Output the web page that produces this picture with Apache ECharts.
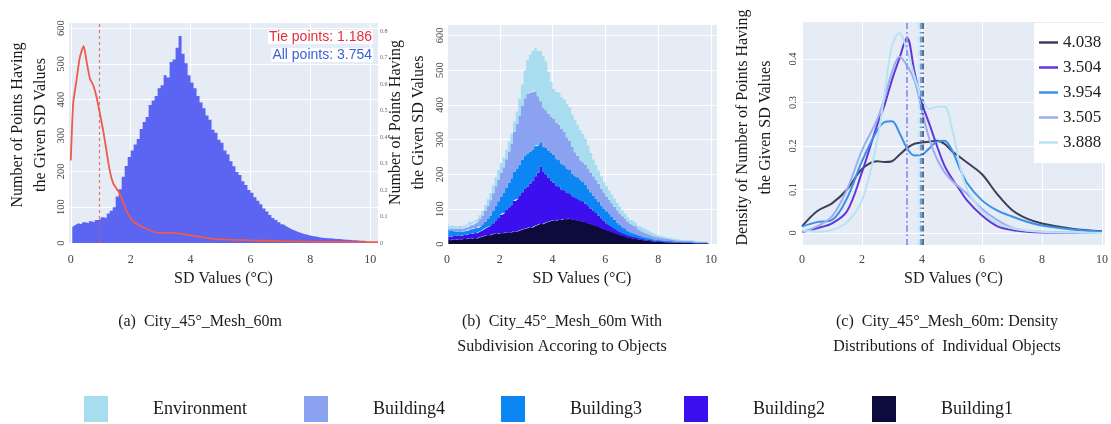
<!DOCTYPE html>
<html><head><meta charset="utf-8">
<script src="https://cdn.jsdelivr.net/npm/echarts@6/dist/echarts.min.js"></script>
<style>html,body{margin:0;padding:0;background:#fff}#c{width:1111px;height:424px}</style>
</head><body><div id="c"></div>
<script>
// ---------- tick labels ----------
const sdTicks = [0, 2, 4, 6, 8, 10];
const countTicks = [0, 100, 200, 300, 400, 500, 600];
const tieTicks = [0, 0.1, 0.2, 0.3, 0.4, 0.5, 0.6, 0.7, 0.8];
const densTicks = [0, 0.1, 0.2, 0.3, 0.4];

// ---------- (a) histogram of all points (bins of 0.1 from 0) ----------
const BIN_START = 0, BIN_WIDTH = 0.1;
const allPoints = [
  45,50,55,52,58,55,61,58,64,66,
  72,70,82,90,100,130,150,185,215,240,
  258,275,290,318,338,352,385,398,410,432,
  440,468,462,505,512,545,578,528,502,468,
  448,432,410,392,376,356,344,316,308,288,
  280,258,248,228,214,198,190,172,162,148,
  140,128,118,108,96,88,78,70,64,58,
  52,47,42,38,34,31,28,25,23,21,
  19,18,16,15,14,13,13,12,11,11,
  10,9,9,8,8,7,6,6,5,5
];
// tie points density curve (right axis)
const tieX = [0,0.08,0.19,0.3,0.43,0.52,0.64,0.75,0.86,0.97,1.08,1.19,1.3,1.42,1.53,1.64,1.86,2.08,2.53,2.98,3.31,4.08,4.87,6,7,8,9,10.26];
const tieDensity = [0.311,0.527,0.614,0.70,0.743,0.69,0.62,0.595,0.551,0.489,0.425,0.349,0.273,0.224,0.205,0.186,0.121,0.083,0.053,0.038,0.039,0.027,0.015,0.01,0.007,0.005,0.004,0.003];
const tieMean = '1.186', allMean = '3.754';
const tieMarkerX = 0.95;

// ---------- (b) stacked histogram by object ----------
const objects = ['Environment', 'Building4', 'Building3', 'Building2', 'Building1'];
const building1 = [
  12,11,13,12,14,13,15,14,16,15,
  17,16,19,21,24,26,25,28,30,29,
  32,31,33,34,33,36,35,38,41,43,
  45,48,47,52,55,58,57,61,63,66,
  68,67,70,69,72,71,73,70,69,68,
  66,65,63,60,58,55,53,50,46,43,
  40,38,35,32,29,26,24,22,19,17,
  16,15,13,12,11,10,9,8,7,7,
  6,6,5,5,4,4,4,4,3,3,
  3,3,3,2,2,2,2,2,2,2
];
const building2 = [
  10,9,10,11,10,10,11,12,13,14,
  15,15,16,18,20,22,27,32,38,46,
  52,58,65,72,80,88,94,100,108,115,
  120,126,135,143,150,165,150,140,128,116,
  108,100,95,88,82,76,72,68,65,63,
  60,57,53,49,44,40,36,32,28,24,
  20,17,15,13,11,9,8,7,6,6,
  5,5,4,4,3,3,3,3,2,2,
  2,2,2,2,2,1,1,1,1,1,
  1,1,1,1,1,1,1,1,1,1
];
const building3 = [
  24,18,14,12,13,12,11,12,13,14,
  14,15,16,18,20,24,30,36,42,48,
  53,58,64,70,76,84,88,90,93,96,
  95,92,90,86,80,70,72,76,78,80,
  80,78,76,74,72,70,68,65,62,60,
  58,56,54,51,47,43,41,39,37,35,
  34,31,28,25,22,20,17,15,13,11,
  10,9,8,7,6,6,5,4,4,3,
  3,3,3,3,3,3,2,2,2,2,
  2,2,2,1,1,1,1,1,1,1
];
const building4 = [
  6,7,7,8,8,8,9,10,11,12,
  14,17,20,25,31,38,44,50,56,62,
  67,74,82,90,100,115,128,142,155,165,
  173,170,165,160,140,118,112,108,106,105,
  105,104,102,100,96,90,84,76,68,62,
  57,57,58,57,57,57,55,52,49,46,
  43,41,39,37,35,33,31,29,27,25,
  24,21,18,16,14,12,11,10,9,8,
  8,7,6,5,5,4,4,4,3,3,
  3,3,3,3,2,2,2,2,2,2
];
const environment = [
  7,8,8,7,8,8,9,9,10,10,
  10,11,12,14,17,19,21,24,26,28,
  29,28,27,28,28,30,36,48,62,80,
  96,108,118,122,130,145,150,140,120,100,
  85,88,90,92,94,95,96,94,92,90,
  87,82,75,66,56,48,42,38,34,31,
  29,27,25,23,21,19,17,14,12,10,
  9,9,9,9,9,9,8,7,6,5,
  4,4,4,3,3,3,3,3,2,2,
  2,2,2,2,2,1,1,1,1,1
];

// ---------- (c) density curves ----------
const densX = [0,0.5,1,1.5,2,2.5,2.75,3,3.25,3.5,3.75,4,4.25,4.5,4.75,5,5.25,5.5,6,6.5,7,7.5,8,9,10];
const densMeans = ['4.038', '3.504', '3.954', '3.505', '3.888'];
const dens1 = [0.015,0.05,0.068,0.10,0.147,0.165,0.163,0.165,0.18,0.195,0.205,0.208,0.21,0.212,0.205,0.188,0.175,0.162,0.135,0.09,0.053,0.033,0.022,0.01,0.004];
const dens2 = [0.002,0.011,0.022,0.05,0.14,0.247,0.294,0.352,0.402,0.449,0.37,0.298,0.25,0.2,0.155,0.125,0.1,0.075,0.04,0.016,0.007,0.003,0.001,0,0];
const dens3 = [0.015,0.025,0.03,0.08,0.165,0.235,0.255,0.257,0.23,0.195,0.178,0.18,0.195,0.21,0.212,0.19,0.15,0.115,0.075,0.052,0.038,0.026,0.017,0.008,0.003];
const dens4 = [0.002,0.015,0.038,0.10,0.19,0.26,0.31,0.37,0.405,0.385,0.35,0.28,0.215,0.17,0.14,0.12,0.105,0.09,0.055,0.03,0.012,0.005,0.003,0.001,0];
const dens5 = [0.007,0.003,0.007,0.025,0.075,0.21,0.32,0.43,0.46,0.42,0.36,0.31,0.285,0.29,0.29,0.24,0.16,0.1,0.05,0.022,0.011,0.006,0.003,0.001,0];

// ---------- text ----------
const xTitle = 'SD Values (°C)';
const yTitleCount = 'Number of Points Having\nthe Given SD Values';
const yTitleDens = 'Density of Number of Points Having\nthe Given SD Values';
const captions = [
  '(a)  City_45°_Mesh_60m',
  '(b)  City_45°_Mesh_60m With\nSubdivision Accoring to Objects',
  '(c)  City_45°_Mesh_60m: Density\nDistributions of  Individual Objects'
];

// ---------- styling ----------
const SERIF = 'Liberation Serif, Times New Roman, serif';
const SANS = 'Liberation Sans, Arial, sans-serif';
const BG = '#e5ecf6';
const objColors = {Environment:'#a8ddf0', Building4:'#8aa2ef', Building3:'#0c86f3', Building2:'#3c10ee', Building1:'#0d0b3b'};
const densColors = ['#3c3f58', '#6236d9', '#3b8fe6', '#9daef0', '#b9e3f3'];
const ALL_COLOR = '#5c64f2';

const binCenters = allPoints.map((_, i) => +(BIN_START + BIN_WIDTH * (i + 0.5)).toFixed(2));
const pairs = (xs, ys) => ys.map((v, i) => [xs[i], v]);

function xAx(grid, min, max, margin, nameGap) {
  return {
    gridIndex: grid, type: 'value', min: min, max: max,
    axisLine: {show: false},
    axisTick: {show: false, customValues: sdTicks},
    axisLabel: {customValues: sdTicks, margin: margin, fontFamily: SERIF, fontSize: 12, color: '#444'},
    splitLine: {show: true, lineStyle: {color: '#ffffff', width: 1}},
    name: xTitle, nameLocation: 'middle', nameGap: nameGap,
    nameTextStyle: {fontFamily: SERIF, fontSize: 16, color: '#1a1a1a'}
  };
}
function yAx(grid, min, max, ticks, margin, name, nameGap, shift) {
  return {
    gridIndex: grid, type: 'value', min: min, max: max,
    axisLine: {show: false},
    axisTick: {show: false, customValues: ticks},
    axisLabel: {customValues: ticks, rotate: 90, margin: margin, fontFamily: SERIF, fontSize: 10.5, color: '#444'},
    splitLine: {show: true, lineStyle: {color: '#ffffff', width: 1}},
    name: name, nameLocation: 'middle', nameRotate: 90, nameGap: nameGap,
    nameTextStyle: {fontFamily: SERIF, fontSize: 16, lineHeight: 23, color: '#1a1a1a', padding: [0, 0, 0, shift]}
  };
}

const stackOrder = ['Building1', 'Building2', 'Building3', 'Building4', 'Environment'];
const stackData = {Building1: building1, Building2: building2, Building3: building3, Building4: building4, Environment: environment};
const densSeries = [dens1, dens2, dens3, dens4, dens5];
const legendLefts = [84, 304, 501, 684, 872];

const option = {
  animation: false,
  backgroundColor: '#ffffff',
  grid: [
    {left: 69, top: 23, width: 309, height: 220, show: true, backgroundColor: BG, borderWidth: 0},
    {left: 447, top: 25, width: 270, height: 219, show: true, backgroundColor: BG, borderWidth: 0},
    {left: 802, top: 22, width: 309, height: 223, show: true, backgroundColor: BG, borderWidth: 0},
    // bins 0..10 of panel (b): same scale as grid 1 (26.4 px per unit)
    {left: 447, top: 25, width: 264, height: 219, show: false}
  ],
  xAxis: [
    xAx(0, -0.06, 10.26, 11, 28),
    xAx(1, 0, 10.23, 10, 27),
    xAx(2, 0, 10.1, 9, 26),
    {gridIndex: 3, type: 'category', data: binCenters, show: false, boundaryGap: true}
  ],
  yAxis: [
    yAx(0, 0, 614, countTicks, 2, yTitleCount, 17, 16),
    {
      gridIndex: 0, type: 'value', position: 'right', min: 0, max: 0.83,
      axisLine: {show: false}, axisTick: {show: false, customValues: tieTicks},
      axisLabel: {customValues: tieTicks, margin: 2, fontFamily: SERIF, fontSize: 6, color: '#666'},
      splitLine: {show: false}
    },
    yAx(1, 0, 630, countTicks, 1, yTitleCount, 17, 24),
    yAx(2, -0.0276, 0.485, densTicks, 3, yTitleDens, 25, 12),
    {gridIndex: 3, type: 'value', min: 0, max: 630, show: false, splitLine: {show: false}}
  ],
  title: [
    {
      right: 738, top: 28, padding: 0,
      text: '{r|Tie points: ' + tieMean + '}\n{b|All points: ' + allMean + '}',
      textStyle: {fontWeight: 'normal', rich: {
        r: {fontFamily: SANS, fontSize: 14, fontWeight: 'normal', color: '#e62e3d', lineHeight: 18, backgroundColor: '#ffffff', align: 'right', padding: [0, 1]},
        b: {fontFamily: SANS, fontSize: 14, fontWeight: 'normal', color: '#3b62d6', lineHeight: 18, backgroundColor: '#ffffff', align: 'right', padding: [0, 1]}
      }}
    },
    {left: 200, top: 309, textAlign: 'center', padding: 0, text: captions[0], textStyle: {fontFamily: SERIF, fontSize: 16, fontWeight: 'normal', color: '#1a1a1a', lineHeight: 25}},
    {left: 562, top: 309, textAlign: 'center', padding: 0, text: captions[1], textStyle: {fontFamily: SERIF, fontSize: 16, fontWeight: 'normal', color: '#1a1a1a', lineHeight: 25}},
    {left: 947, top: 309, textAlign: 'center', padding: 0, text: captions[2], textStyle: {fontFamily: SERIF, fontSize: 16, fontWeight: 'normal', color: '#1a1a1a', lineHeight: 25}}
  ],
  legend: objects.map((name, i) => ({
    data: [name], left: legendLefts[i], top: 396, padding: 0,
    icon: 'rect', itemWidth: 24, itemHeight: 26,
    itemStyle: {color: objColors[name], borderWidth: 0},
    textStyle: {fontFamily: SERIF, fontSize: 18, color: '#1a1a1a', padding: [0, 0, 0, 40]}
  })).concat([{
    data: densMeans, orient: 'vertical', left: 1034, top: 23,
    padding: [7, 6, 8, 5], backgroundColor: '#ffffff',
    icon: 'rect', itemWidth: 19, itemHeight: 2.5, itemGap: 0,
    textStyle: {fontFamily: SERIF, fontSize: 17, lineHeight: 25, color: '#222'}
  }]),
  series: [
    {
      // histogram drawn as a stepped filled area (bins centred on binCenters)
      name: 'All points', type: 'line', step: 'middle', xAxisIndex: 0, yAxisIndex: 0,
      data: pairs(binCenters, allPoints), showSymbol: false,
      lineStyle: {width: 0}, itemStyle: {color: ALL_COLOR},
      areaStyle: {color: ALL_COLOR, opacity: 1}
    },
    {
      name: 'Tie points', type: 'line', xAxisIndex: 0, yAxisIndex: 1,
      data: pairs(tieX, tieDensity), smooth: 0.2, showSymbol: false,
      lineStyle: {color: '#ef5a4a', width: 1.8}, itemStyle: {color: '#ef5a4a'},
      markLine: {
        silent: true, symbol: ['none', 'none'], label: {show: false},
        lineStyle: {color: '#e8544a', type: [3, 3], width: 1.2, opacity: 0.8},
        data: [{xAxis: tieMarkerX}]
      }
    }
  ].concat(stackOrder.map(name => ({
    name: name, type: 'line', step: 'middle', stack: 'objects', xAxisIndex: 3, yAxisIndex: 4,
    data: stackData[name], showSymbol: false,
    lineStyle: {width: 0}, itemStyle: {color: objColors[name]},
    areaStyle: {color: objColors[name], opacity: 1}
  }))).concat(densMeans.map((m, i) => ({
    name: m, type: 'line', xAxisIndex: 2, yAxisIndex: 3,
    data: pairs(densX, densSeries[i]), smooth: 0.35, showSymbol: false,
    lineStyle: {color: densColors[i], width: 2}, itemStyle: {color: densColors[i]},
    markLine: {
      silent: true, symbol: ['none', 'none'], label: {show: false},
      lineStyle: {color: densColors[i], type: [6, 3, 1.5, 3], width: 1.5},
      data: [{xAxis: +m}]
    }
  })))
};

const chart = echarts.init(document.getElementById('c'), null, {renderer: 'canvas'});
chart.setOption(option);
</script>
</body></html>
